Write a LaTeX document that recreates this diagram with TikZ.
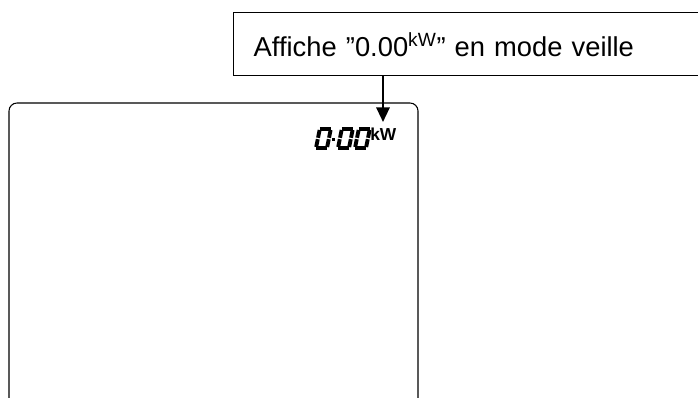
\documentclass[tikz,border=0pt]{standalone}
\usepackage{fontspec}
\setmainfont{Liberation Sans}
\usetikzlibrary{arrows.meta}

\begin{document}
\begin{tikzpicture}[x=0.75pt,y=0.75pt,yscale=-1,
  seg/.style={line width=2.9pt, line cap=butt}]
\useasboundingbox (0,0) rectangle (698,398);
\clip (0,0) rectangle (698,398);

%Callout box
\node [draw, line width=1.1pt, anchor=north west, minimum width=560*0.75pt, minimum height=63*0.75pt,
  text width=520*0.75pt, inner xsep=19*0.75pt, align=left, font=\fontsize{20.5}{24}\selectfont] (msg) at (233,12)
  {Affiche ”0.00\textsuperscript{kW}” en mode veille};

%Display panel
\draw [line width=0.8pt, rounded corners=6pt] (9,430) -- (9,103) -- (418,103) -- (418,430) ;

%Arrow
\coordinate (tip) at (383,122);
\draw [line width=1.6pt, -{Triangle[width=10pt, length=11pt]}] (msg.south -| tip) -- (tip) ;

%Seven segment digits 0.00
\foreach \dx in {314,336,353} {
  \begin{scope}[shift={(\dx,148)}, xslant=-0.2]
    \draw [seg] (2,0) -- (13,0) ;
    \draw [seg] (2,-19) -- (13,-19) ;
    \draw [seg] (2,-1) -- (2,-8.8) ;
    \draw [seg] (2,-10.2) -- (2,-18) ;
    \draw [seg] (13,-1) -- (13,-8.8) ;
    \draw [seg] (13,-10.2) -- (13,-18) ;
  \end{scope}
}
\fill (331.5,138) rectangle (335,141.5) ;
\node [anchor=north west, inner sep=0pt, font=\bfseries\fontsize{13}{13}\selectfont] (unit) at (370,127.5) {kW};

\end{tikzpicture}
\end{document}
